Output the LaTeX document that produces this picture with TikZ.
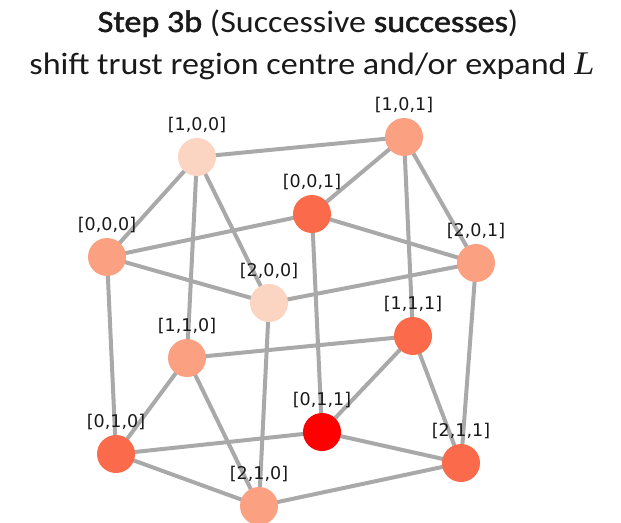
\documentclass[tikz,border=0pt]{standalone}
\usepackage{fontspec}
\setmainfont{Carlito}
\newfontfamily\lblfont{DejaVu Sans}
\newfontfamily\boldish[FakeBold=1.6]{Carlito}
\newfontfamily\serifL{Liberation Serif}
\definecolor{cA}{HTML}{FCD4C2}
\definecolor{cB}{HTML}{FCA082}
\definecolor{cC}{HTML}{FB6A4A}
\definecolor{cD}{HTML}{FF0000}
\definecolor{edgegray}{HTML}{A9A9A9}
\definecolor{ttlcol}{HTML}{1A1A1A}
\tikzset{
  vtx/.style={circle, minimum size=38pt, inner sep=0pt, draw=none},
  lbl/.style={font=\lblfont\fontsize{17.5}{17.5}\selectfont, text=black!90, inner sep=0pt},
  edge/.style={draw=edgegray, line width=4pt},
  ttl/.style={font=\fontsize{31}{31}\selectfont, inner sep=0pt, xscale=1.1, text=ttlcol}
}
\begin{document}
\begin{tikzpicture}[x=1pt,y=-1pt]
\useasboundingbox (0,0) rectangle (621,522);
\node[ttl, anchor=base] (t1) at (308,32) {{\boldish Step 3b} (Successive {\boldish successes})};
\node[ttl, anchor=base] (t2) at (312,74) {shift trust region centre and/or expand {\serifL\itshape\fontsize{33}{33}\selectfont L}};
% coordinates
\coordinate (p100) at (197,157);
\coordinate (p101) at (404,137);
\coordinate (p001) at (312,214);
\coordinate (p000) at (107,257);
\coordinate (p201) at (476,263);
\coordinate (p200) at (269,303);
\coordinate (p111) at (413,336);
\coordinate (p110) at (187,358);
\coordinate (p011) at (322,432);
\coordinate (p010) at (116,454);
\coordinate (p211) at (461,463);
\coordinate (p210) at (259,506);
% edges
\foreach \a/\b in {p100/p101,p100/p000,p100/p110,p100/p200,p000/p001,p000/p200,p000/p010,
  p001/p101,p001/p201,p001/p011,p101/p201,p101/p111,p201/p200,p201/p211,p200/p210,
  p110/p111,p110/p010,p110/p210,p111/p011,p111/p211,p011/p010,p011/p211,p010/p210,p210/p211}
  \draw[edge] (\a) -- (\b);
% nodes
\node[vtx, fill=cA] (n100) at (p100) {};
\node[vtx, fill=cB] (n101) at (p101) {};
\node[vtx, fill=cC] (n001) at (p001) {};
\node[vtx, fill=cB] (n000) at (p000) {};
\node[vtx, fill=cB] (n201) at (p201) {};
\node[vtx, fill=cA] (n200) at (p200) {};
\node[vtx, fill=cC] (n111) at (p111) {};
\node[vtx, fill=cB] (n110) at (p110) {};
\node[vtx, fill=cD] (n011) at (p011) {};
\node[vtx, fill=cC] (n010) at (p010) {};
\node[vtx, fill=cC] (n211) at (p211) {};
\node[vtx, fill=cB] (n210) at (p210) {};
% labels
\foreach \n/\t in {100/{[1,0,0]},101/{[1,0,1]},001/{[0,0,1]},000/{[0,0,0]},201/{[2,0,1]},200/{[2,0,0]},
  111/{[1,1,1]},110/{[1,1,0]},011/{[0,1,1]},010/{[0,1,0]},211/{[2,1,1]},210/{[2,1,0]}}
  \node[lbl] (l\n) at ([yshift=32pt]p\n) {\t};
\end{tikzpicture}
\end{document}
